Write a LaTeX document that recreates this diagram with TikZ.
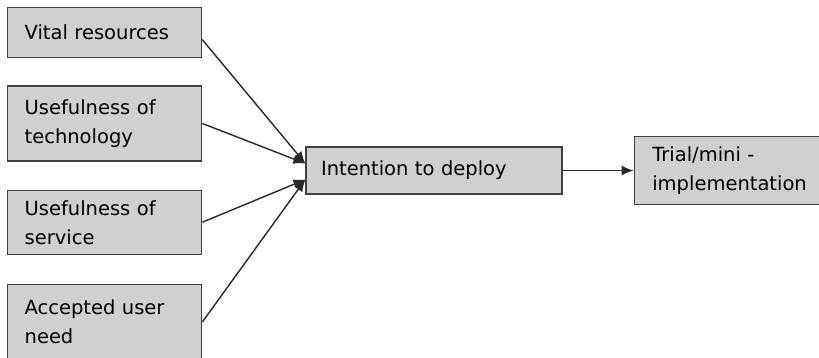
\documentclass[tikz,border=0pt]{standalone}
\usepackage{fontspec}
\setmainfont{DejaVu Sans}
\usetikzlibrary{arrows.meta,positioning}
\definecolor{BoxGray}{RGB}{208,208,208}
\definecolor{EdgeGray}{RGB}{64,64,64}
\definecolor{LineGray}{RGB}{40,40,40}

\begin{document}
\begin{tikzpicture}[
    node distance=27pt,
    box/.style={draw=EdgeGray, line width=1.3pt, fill=BoxGray, rectangle, inner xsep=17pt, inner ysep=0pt, text width=160pt, align=left, font=\fontsize{19.5}{29}\selectfont},
    arrow/.style={-{Latex[length=12pt,width=10pt]}, line width=1.4pt, LineGray}
  ]
    \useasboundingbox (0,0) rectangle (819pt,-357pt);
    \node[box, minimum height=50pt, anchor=north west] (vital) at (7pt,-7pt) {Vital resources};
    \node[box, minimum height=75pt, below=27pt of vital] (tech) {Usefulness of\\technology};
    \node[box, minimum height=64pt, below=28pt of tech] (service) {Usefulness of\\service};
    \node[box, minimum height=75pt, below=29pt of service] (need) {Accepted user\\need};
    \node[box, minimum height=47pt, text width=226pt, inner xsep=15pt] (deploy) at (434pt,-170.5pt) {Intention to deploy};
    \node[box, minimum height=68pt, text width=149pt, inner xsep=18pt, right=71pt of deploy] (trial) {Trial/mini -\\implementation};

    \coordinate (in1) at ([yshift=7pt]deploy.west);
    \coordinate (in2) at ([yshift=-9pt]deploy.west);

    \draw[arrow] ([yshift=-7pt]vital.east) -- (in1);
    \draw[arrow] (tech.east) -- (in1);
    \draw[arrow] (service.east) -- (in2);
    \draw[arrow] (need.east) -- (in2);
    \draw[arrow] (deploy) -- (trial);
  \end{tikzpicture}
\end{document}
